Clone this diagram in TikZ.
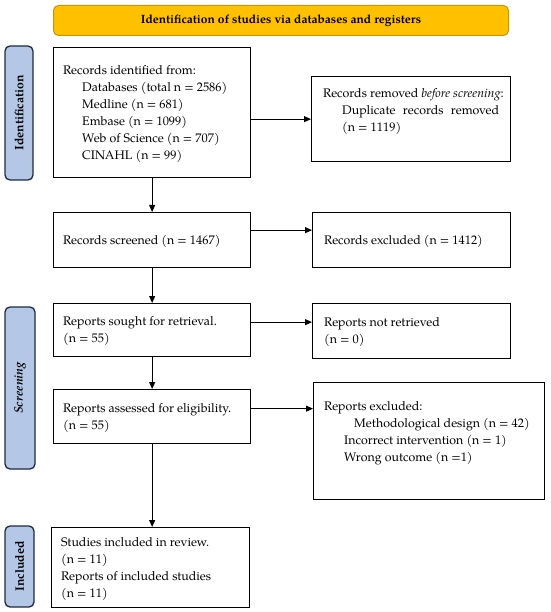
\documentclass[tikz,border=0pt]{standalone}
\usepackage{fontspec}
\setmainfont{texgyrepagella}[Extension=.otf,UprightFont=*-regular,BoldFont=*-bold,ItalicFont=*-italic,BoldItalicFont=*-bolditalic]
\usetikzlibrary{arrows.meta}
\definecolor{bannerfill}{HTML}{FFC000}
\definecolor{bannerdraw}{HTML}{C49A00}
\definecolor{sidefill}{HTML}{B4C7E7}
\definecolor{sidedraw}{HTML}{1F2A40}
\tikzset{
  box/.style={draw=black, line width=1.3pt, anchor=north west, inner sep=0pt},
  txt/.style={anchor=north west, inner sep=0pt, align=left, font=\fontsize{12.4}{17}\selectfont},
  arr/.style={draw=black, line width=0.9pt, -{Triangle[length=7pt,width=6pt]}},
  banner/.style={draw=bannerdraw, fill=bannerfill, line width=1pt, rounded corners=5pt, anchor=north west, inner sep=0pt, font=\fontsize{12}{14}\selectfont\bfseries},
  side/.style={draw=sidedraw, fill=sidefill, line width=1.3pt, rounded corners=5pt, inner sep=0pt, rotate=90, font=\fontsize{12.2}{14}\selectfont\bfseries}
}
\begin{document}
\begin{tikzpicture}[x=1pt,y=-1pt]
\useasboundingbox (0,0) rectangle (550,612);
% banner
\node[banner, minimum width=455pt, minimum height=30pt] (ban) at (53,5) {Identification of studies via databases and registers};
% side bars
\node[side, minimum width=134pt, minimum height=28pt] (sId) at (19,113) {Identification};
\node[side, minimum width=162pt, minimum height=30pt] (sScr) at (20,388) {\itshape Screening};
\node[side, minimum width=81pt, minimum height=29pt] (sInc) at (19.5,566.5) {Included};
% boxes
\node[box, minimum width=197pt, minimum height=130pt] (b1) at (53,47) {};
\node[box, minimum width=199pt, minimum height=85pt] (b2) at (311,76) {};
\node[box, minimum width=197pt, minimum height=55pt] (b3) at (53,212) {};
\node[box, minimum width=198pt, minimum height=55pt] (b4) at (312,212) {};
\node[box, minimum width=197pt, minimum height=53pt] (b5) at (53,303) {};
\node[box, minimum width=198pt, minimum height=55pt] (b6) at (312,303) {};
\node[box, minimum width=197pt, minimum height=54pt] (b7) at (53,389) {};
\node[box, minimum width=231pt, minimum height=117pt] (b8) at (313,382) {};
\node[box, minimum width=198pt, minimum height=80pt] (b9) at (50.5,527) {};
% texts
\node[txt] (t1) at (63,65) {Records identified from:\\
\hspace*{19pt}Databases (total n = 2586)\\
\hspace*{19pt}Medline (n = 681)\\
\hspace*{19pt}Embase (n = 1099)\\
\hspace*{19pt}Web of Science (n = 707)\\
\hspace*{19pt}CINAHL (n = 99)};
\node[txt] (t2) at (323,88) {Records removed \textit{before screening}:\\
\hspace*{19pt}\makebox[157pt][s]{Duplicate records removed}\\
\hspace*{19pt}(n = 1119)};
\node[txt] (t3) at (63,235) {Records screened (n = 1467)};
\node[txt] (t4) at (324,235) {Records excluded (n = 1412)};
\node[txt] (t5) at (63,316) {Reports sought for retrieval.\\ (n = 55)};
\node[txt] (t6) at (324,317) {Reports not retrieved\\ (n = 0)};
\node[txt] (t7) at (63,403) {Reports assessed for eligibility.\\ (n = 55)};
\node[txt] (t8) at (324,401) {Reports excluded:\\
\hspace*{30pt}Methodological design (n = 42)\\
\hspace*{20pt}Incorrect intervention (n = 1)\\
\hspace*{20pt}Wrong outcome (n =1)};
\node[txt] (t9) at (61,537) {Studies included in review.\\ (n = 11)\\ Reports of included studies\\ (n = 11)};
% arrows
\path ([yshift=10pt]b3.east) coordinate (p34);
\path ([yshift=8pt]b5.east) coordinate (p56);
\path ([yshift=8pt]b7.east) coordinate (p78);
\draw[arr] (b1.east |- b2.west) -- (b2.west);
\draw[arr] (b1.south) -- (b3.north);
\draw[arr] (p34) -- (b4.west |- p34);
\draw[arr] (b3.south) -- (b5.north);
\draw[arr] (p56) -- (b6.west |- p56);
\draw[arr] (b5.south) -- (b7.north);
\draw[arr] (p78) -- (b8.west |- p78);
\draw[arr] (b7.south) -- (b7.south |- b9.north);
\end{tikzpicture}
\end{document}
